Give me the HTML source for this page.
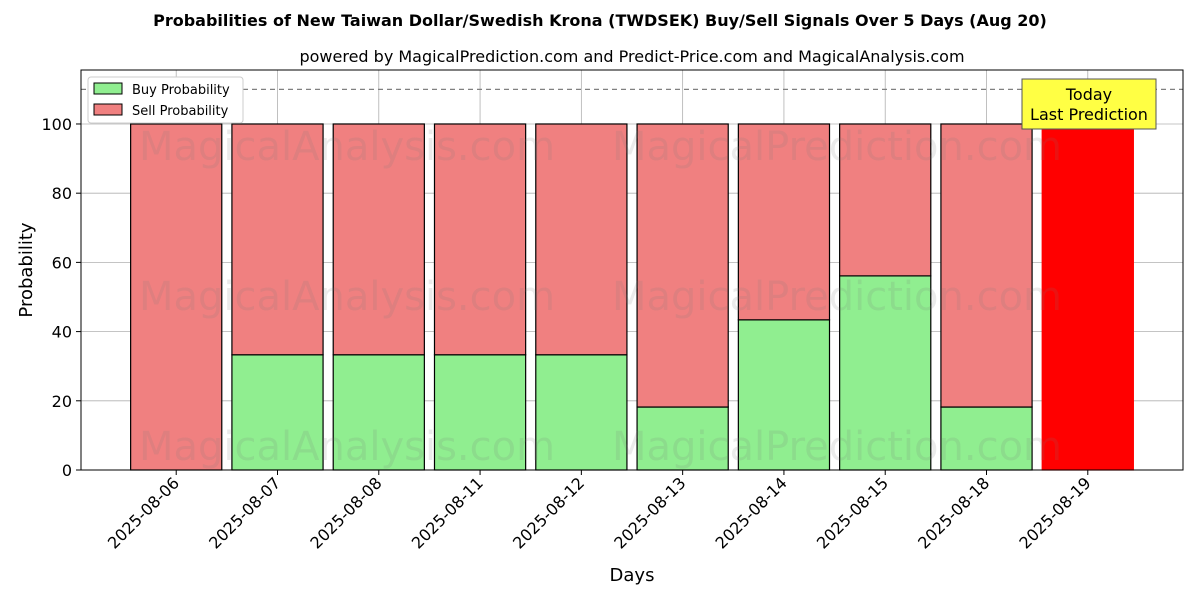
<!DOCTYPE html>
<html><head><meta charset="utf-8"><style>body{margin:0;background:#fff}svg{font-family:"DejaVu Sans","Liberation Sans",sans-serif}</style></head>
<body>
<svg id="c" width="1200" height="600" xmlns="http://www.w3.org/2000/svg"></svg>
<script>
const categories=["2025-08-06","2025-08-07","2025-08-08","2025-08-11","2025-08-12","2025-08-13","2025-08-14","2025-08-15","2025-08-18","2025-08-19"];
const buyValues=[0,33.3,33.3,33.3,33.3,18.2,43.4,56.1,18.2,0];
const sellValues=[100,66.7,66.7,66.7,66.7,81.8,56.6,43.9,81.8,100];
const yTicks=[0,20,40,60,80,100];
const L=81,R=1183,T=70,B=470;
const yMax=115.6;
const y=v=>B-(v/yMax)*(B-T);
const step=(R-L)/(categories.length-1+1.88);
const x=i=>L+step*(0.94+i);
const bw=step*0.9;
const s=document.getElementById('c');
const NS="http://www.w3.org/2000/svg";
function mk(t,a,txt){const e=document.createElementNS(NS,t);for(const k in a)e.setAttribute(k,a[k]);if(txt!=null)e.textContent=txt;s.appendChild(e);return e;}
let e;
e=mk('text',{x:600,y:26,'text-anchor':'middle','font-size':16,'font-weight':'bold'},'Probabilities of New Taiwan Dollar/Swedish Krona (TWDSEK) Buy/Sell Signals Over 5 Days (Aug 20)');

e=mk('text',{x:632,y:62,'text-anchor':'middle','font-size':16},'powered by MagicalPrediction.com and Predict-Price.com and MagicalAnalysis.com');

// grid
yTicks.forEach(v=>{e=mk('line',{x1:L,x2:R,y1:y(v),y2:y(v),stroke:'#b0b0b0','stroke-width':0.8});
e=mk('line',{x1:L-5,x2:L,y1:y(v),y2:y(v),stroke:'#000'});
e=mk('text',{x:L-9,y:y(v)+6,'text-anchor':'end','font-size':16},String(v));});
categories.forEach((c,i)=>{e=mk('line',{x1:x(i),x2:x(i),y1:T,y2:B,stroke:'#b0b0b0','stroke-width':0.8});});
// bars
categories.forEach((c,i)=>{const last=i===categories.length-1;
e=mk('rect',{x:x(i)-bw/2,y:y(buyValues[i]),width:bw,height:B-y(buyValues[i]),fill:'#90ee90',stroke:'#000','stroke-width':1.2});
e=mk('rect',{x:x(i)-bw/2,y:y(buyValues[i]+sellValues[i]),width:bw,height:y(buyValues[i])-y(buyValues[i]+sellValues[i]),fill:last?'#ff0000':'#f08080',stroke:last?'#ff0000':'#000','stroke-width':1.2});
e=mk('line',{x1:x(i),x2:x(i),y1:B,y2:B+5,stroke:'#000'});
e=mk('text',{x:x(i)+4,y:B+14,'text-anchor':'end','font-size':16,transform:`rotate(-45 ${x(i)+4} ${B+14})`},c);});
// watermarks
[[347,160],[837,160],[347,310],[837,310],[347,460],[837,460]].forEach((p,k)=>{e=mk('text',{x:p[0],y:p[1],'text-anchor':'middle','font-size':40,fill:'rgba(120,120,120,0.15)'},k%2?'MagicalPrediction.com':'MagicalAnalysis.com');});
e=mk('line',{x1:L,x2:R,y1:y(110),y2:y(110),stroke:'#808080','stroke-dasharray':'5,4','stroke-width':1.2});
e=mk('rect',{x:L,y:T,width:R-L,height:B-T,fill:'none',stroke:'#000','stroke-width':1});
// annotation
e=mk('rect',{x:1022,y:79,width:134,height:50,fill:'#ffff44',stroke:'#555'});
e=mk('text',{x:1089,y:100,'text-anchor':'middle','font-size':16},'Today');
e=mk('text',{x:1089,y:120,'text-anchor':'middle','font-size':16},'Last Prediction');
// legend
e=mk('rect',{x:88,y:77,width:155,height:46,fill:'#fff',stroke:'#ccc',rx:3});
e=mk('rect',{x:94,y:83,width:28,height:11,fill:'#90ee90',stroke:'#000'});
e=mk('text',{x:132,y:94,'font-size':13},'Buy Probability');
e=mk('rect',{x:94,y:104,width:28,height:11,fill:'#f08080',stroke:'#000'});
e=mk('text',{x:132,y:115,'font-size':13},'Sell Probability');
// axis titles
e=mk('text',{x:632,y:581,'text-anchor':'middle','font-size':18},'Days');
e=mk('text',{x:32,y:270,'text-anchor':'middle','font-size':18,transform:'rotate(-90 32 270)'},'Probability');
</script>
</body></html>
